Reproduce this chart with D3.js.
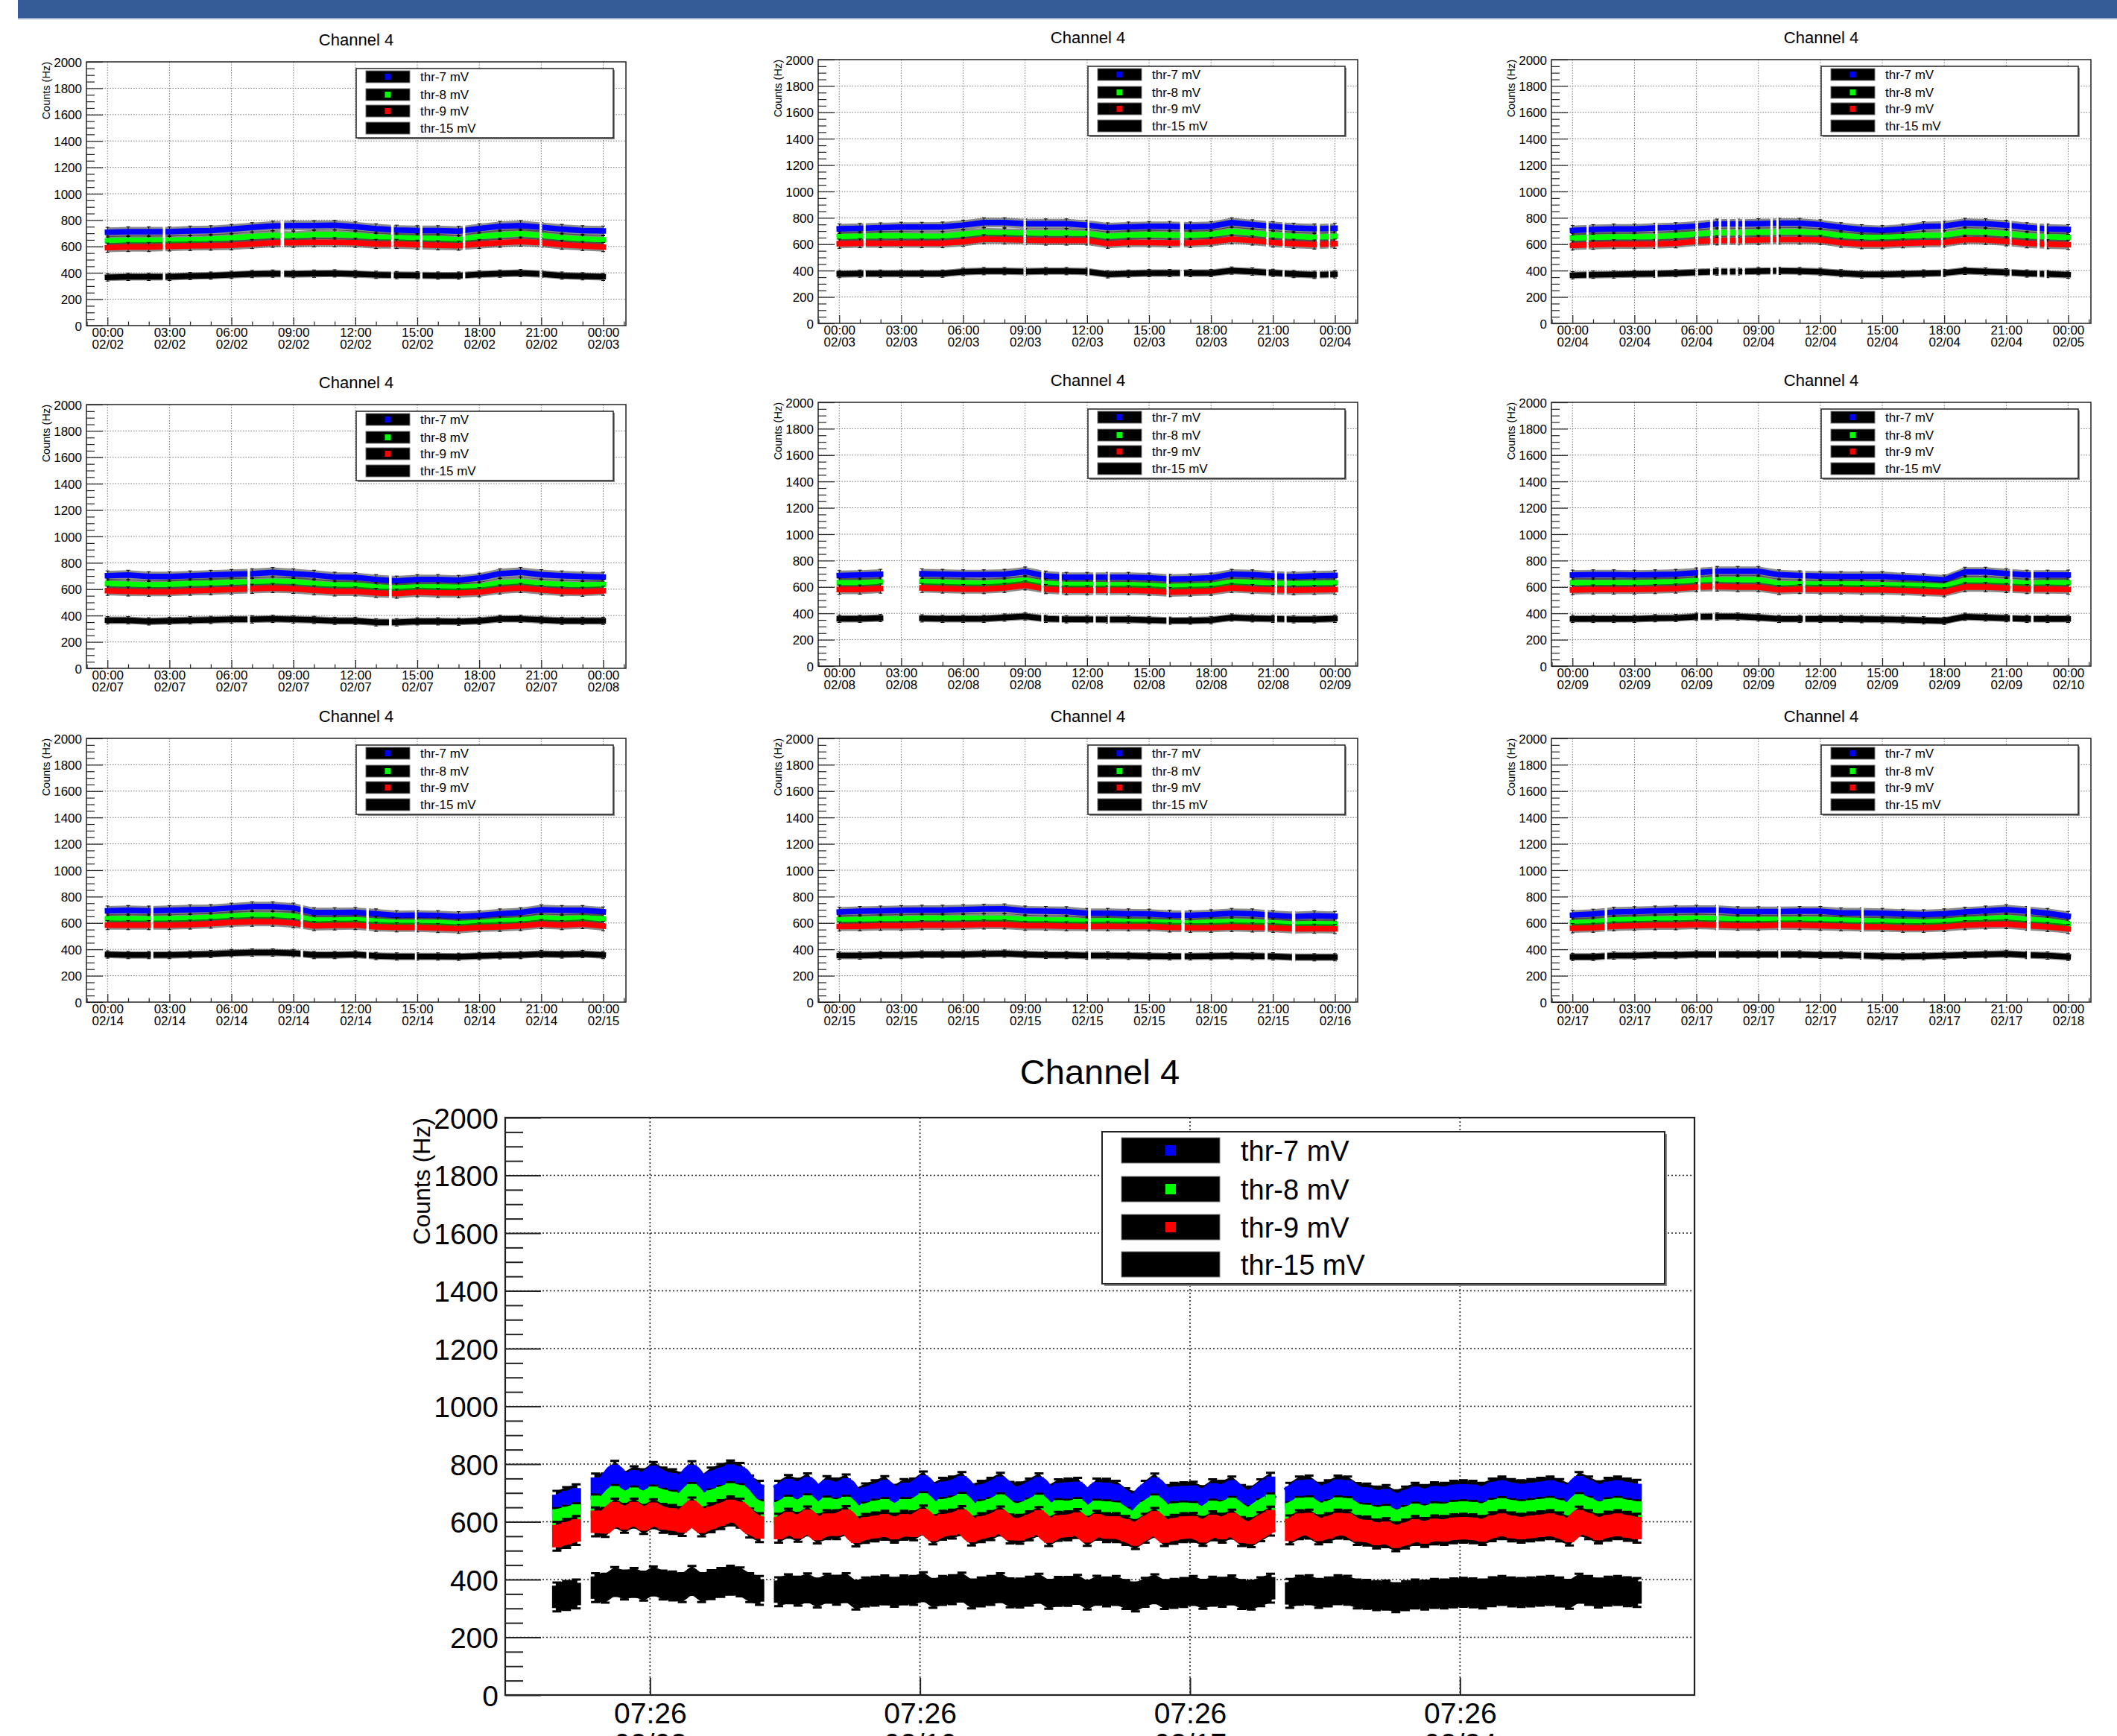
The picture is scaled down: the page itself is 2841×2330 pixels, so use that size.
<!DOCTYPE html>
<html>
<head>
<meta charset="utf-8">
<script src="https://cdn.jsdelivr.net/npm/d3@7"></script>
<style>
  body { margin: 0; background: #fff; }
  svg text { font-family: "Liberation Sans", Arial, Helvetica, sans-serif; fill: #000; }
</style>
</head>
<body>
<svg id="chart" width="2841" height="2330"></svg>
<script>
// ---- data ----
const title = "Channel 4";
const yTitle = "Counts (Hz)";
const seriesNames = ["thr-7 mV", "thr-8 mV", "thr-9 mV", "thr-15 mV"];
const yTicks = [0, 200, 400, 600, 800, 1000, 1200, 1400, 1600, 1800, 2000];

// one panel per day, hourly readings 00:00 .. 24:00
const panelDays = ["02/02", "02/03", "02/04", "02/07", "02/08", "02/09", "02/14", "02/15", "02/17"];
const hours = [0, 1, 2, 3, 4, 5, 6, 7, 8, 9, 10, 11, 12, 13, 14, 15, 16, 17, 18, 19, 20, 21, 22, 23, 24];
const xTickHours = [0, 3, 6, 9, 12, 15, 18, 21, 24];

const thr7 = [
  [708,712,712,712,718,721,731,744,755,759,759,761,750,735,725,721,721,716,736,753,759,746,731,721,718],
  [717,721,726,730,730,732,745,764,764,755,755,755,745,726,732,736,736,732,736,764,749,736,723,717,721],
  [705,712,716,716,723,727,738,754,754,756,760,760,749,727,712,705,716,734,738,760,756,745,727,716,712],
  [702,707,696,696,702,707,713,718,728,718,707,692,689,674,663,674,674,668,685,718,728,711,702,696,692],
  [687,691,697,null,700,697,693,693,697,715,684,674,674,674,674,669,659,663,669,697,693,684,678,684,687],
  [691,693,693,691,693,697,708,719,719,719,693,686,682,680,680,680,671,664,654,713,713,702,691,691,691],
  [692,696,692,696,701,703,714,724,724,714,679,679,681,670,657,659,657,649,657,670,679,701,696,696,685],
  [683,689,692,696,698,698,702,706,708,692,689,687,674,674,670,668,660,658,664,674,670,658,649,655,651],
  [660,668,683,687,692,696,698,698,687,687,687,689,689,677,677,674,668,664,670,683,692,702,689,674,651]
];
const thr8 = [
  [643,647,647,647,650,656,664,675,684,679,690,690,684,671,665,662,660,650,675,688,697,684,665,656,650],
  [657,660,664,664,660,660,676,689,685,683,683,683,679,660,670,674,670,670,674,698,685,670,660,651,660],
  [646,651,655,655,657,666,677,688,688,690,694,694,684,666,651,651,657,666,668,694,690,679,662,655,651],
  [642,637,631,635,642,646,653,653,659,657,642,631,631,616,609,616,616,614,620,648,657,642,635,631,635],
  [631,631,637,null,640,635,631,627,635,650,627,618,618,616,616,612,603,607,612,637,635,627,625,627,631],
  [632,632,632,632,636,638,647,654,654,654,625,621,621,621,621,616,614,610,605,649,647,638,627,632,632],
  [631,631,631,631,636,642,653,659,657,653,621,621,625,614,605,605,605,595,603,616,621,638,631,638,631],
  [623,626,630,632,636,636,636,636,636,626,621,621,613,617,611,608,604,598,608,611,608,602,592,594,592],
  [602,608,623,626,630,632,636,632,626,626,626,626,626,621,617,613,611,608,613,626,632,640,626,617,592]
];
const thr9 = [
  [591,596,596,600,604,606,609,619,628,628,632,632,628,619,619,613,609,606,619,628,637,628,613,604,596],
  [604,608,608,608,608,608,619,638,636,632,628,628,628,604,613,613,610,610,619,638,628,613,604,598,604],
  [591,596,600,600,602,607,622,629,629,633,635,635,633,611,600,600,607,611,613,635,633,622,607,600,596],
  [588,583,581,581,588,592,598,603,609,603,592,583,583,572,566,577,572,570,577,598,609,594,583,581,588],
  [580,580,588,null,593,588,584,584,593,612,584,575,575,575,575,571,561,565,571,593,584,578,575,578,580],
  [577,581,581,581,584,588,599,603,599,599,577,584,581,581,577,577,573,566,560,599,599,592,584,584,581],
  [584,584,584,584,588,595,605,610,610,599,577,582,584,571,567,567,562,556,567,571,577,592,584,592,577],
  [574,575,579,579,583,583,585,589,589,579,579,575,574,575,574,574,566,564,564,570,566,564,555,557,555],
  [560,564,575,579,583,583,589,583,579,579,583,583,579,575,570,570,564,564,570,583,589,592,579,570,555]
];
const thr15 = [
  [366,370,370,370,376,379,385,391,394,391,394,396,391,385,383,381,379,379,389,394,398,391,379,374,370],
  [374,377,377,377,377,377,391,396,396,393,396,396,393,372,377,381,381,381,381,400,393,383,374,368,372],
  [365,369,371,374,376,380,387,393,393,396,398,396,391,380,371,371,374,378,382,398,393,387,378,374,369],
  [364,364,356,360,364,367,371,371,375,371,367,360,360,349,349,356,356,354,360,375,375,367,360,360,360],
  [359,359,364,null,362,359,359,359,368,377,359,355,355,353,353,349,344,345,349,368,362,359,355,355,359],
  [358,358,358,358,363,365,374,376,376,369,358,358,358,358,356,354,352,347,343,374,369,363,358,358,358],
  [361,357,357,357,361,365,372,376,376,372,357,357,361,350,346,346,346,344,350,355,357,365,361,365,357],
  [353,353,357,357,362,362,362,366,368,362,358,357,353,353,351,349,347,347,349,351,349,347,340,340,340],
  [343,343,353,353,357,357,362,362,362,362,362,362,358,357,353,349,347,349,353,358,362,366,357,353,343]
];
// errors (Hz) per series
const errSmall = [37, 36, 35, 28];

// hours with no data in each panel [from, to]
const gapHours = [
  [[2.68,2.8],[8.38,8.55],[13.73,13.86],[15.13,15.25],[17.2,17.32],[20.92,21.04]],
  [[1.17,1.28],[8.92,9.04],[12.02,12.11],[16.5,16.69],[20.67,20.79],[21.46,21.56],[23.12,23.27],[23.69,23.77]],
  [[0.68,0.78],[4.0,4.12],[5.95,6.08],[6.66,6.8],[7.08,7.2],[7.5,7.62],[7.9,8.02],[8.22,8.35],[9.58,9.7],[9.87,9.98],[17.84,17.94],[21.16,21.26],[22.5,22.62],[22.84,22.96]],
  [[6.78,6.9],[13.63,13.76]],
  [[2.28,3.72],[9.78,9.9],[10.65,10.77],[12.3,12.42],[13.0,13.1],[15.84,15.96],[21.08,21.2],[21.55,21.66]],
  [[6.08,6.2],[6.78,6.9],[11.15,11.27],[21.18,21.3],[22.2,22.32]],
  [[2.1,2.22],[9.35,9.47],[12.53,12.65],[14.88,14.98]],
  [[12.05,12.18],[16.56,16.72],[20.6,20.74],[21.92,22.08]],
  [[1.56,1.68],[6.95,7.08],[9.96,10.08],[13.98,14.1],[22.0,22.18]]
];

// whole run: one reading every 6 h from bigStart (null = no data)
const bigStart = "2024-01-31T21:30";
const bigRange = ["2024-01-30T13:20", "2024-03-01T09:20"];
const bigTicks = ["2024-02-03T07:26", "2024-02-10T07:26", "2024-02-17T07:26", "2024-02-24T07:26"];
const big7 = [655,668,678,null,715,715,759,721,740,730,755,736,730,718,758,710,736,748,760,752,
  708,690,null,690,710,697,716,674,706,698,712,664,681,692,706,676,696,698,722,682,
  700,705,720,678,690,700,718,686,684,698,716,675,695,698,700,658,698,697,690,664,
  652,690,715,675,683,685,687,671,695,690,705,675,670,695,718,null,683,705,708,683,
  692,708,705,682,680,670,675,657,670,683,675,685,683,690,692,690,683,698,705,696,
  692,696,700,705,696,680,720,705,688,700,705,698,693];
const big8 = [605,613,622,null,652,648,685,662,680,664,683,672,665,656,692,651,670,682,695,688,
  648,632,null,630,648,634,653,616,645,638,648,610,624,634,640,619,640,640,660,624,
  640,645,658,620,632,640,656,628,626,638,655,617,636,634,640,605,634,632,628,606,
  593,630,652,618,625,628,626,610,634,630,644,618,612,636,656,null,626,644,646,625,
  632,646,643,622,620,612,616,600,612,624,616,625,623,630,632,630,624,637,643,636,
  632,636,640,644,636,621,657,644,628,639,644,637,632];
const big9 = [550,560,570,null,600,598,630,612,630,608,628,612,608,601,634,600,614,625,638,630,
  596,580,null,578,595,581,603,575,590,590,604,565,577,582,588,578,588,586,606,572,
  588,592,604,568,580,587,603,575,574,586,601,566,584,586,594,567,588,580,580,570,
  556,578,598,566,574,580,581,567,586,578,592,566,562,583,602,null,572,590,592,572,
  580,592,590,570,568,558,562,548,558,570,563,572,570,576,578,576,570,583,590,582,
  578,582,586,590,582,568,602,590,575,585,590,584,578];
const big15 = [340,345,350,null,372,370,393,381,390,377,395,381,378,372,397,372,382,390,398,392,
  372,362,null,358,368,360,371,353,370,363,372,346,357,360,364,356,364,362,375,352,
  362,365,374,350,357,362,372,354,353,360,370,349,359,359,366,346,363,357,362,348,
  340,356,368,348,352,355,362,349,360,356,364,348,346,358,370,null,352,363,365,352,
  357,365,363,350,349,344,346,337,344,350,346,352,350,354,356,354,350,358,362,357,
  355,357,360,362,357,349,370,362,353,360,362,358,355];
const errBig = [52, 42, 50, 50];

// ---- drawing ----
const FONT = "'Liberation Sans', Arial, Helvetica, sans-serif";
const HOUR = 3600e3;
const parseT = d3.timeParse("%Y-%m-%dT%H:%M");
const parseDay = d3.timeParse("%Y/%m/%d");
const fmtHM = d3.timeFormat("%H:%M"), fmtMD = d3.timeFormat("%m/%d");
const colors = ["#0000ff", "#00ff00", "#ff0000", "#000000"];

const svg = d3.select("#chart");
const defs = svg.append("defs");

// slide header band
svg.append("rect").attr("x", 24).attr("y", 0).attr("width", 2841 - 24).attr("height", 24).attr("fill", "#355c96");
svg.append("rect").attr("x", 24).attr("y", 24).attr("width", 2841 - 24).attr("height", 2).attr("fill", "#9db1cf");

function drawGrid(g, x, y, w, h, xMajor, o) {
  g.append("g").selectAll("line")
    .data(xMajor.filter(d => x(d) > 2 && x(d) < w - 2)).join("line")
    .attr("x1", d => x(d)).attr("x2", d => x(d)).attr("y1", 0).attr("y2", h)
    .attr("stroke", o.color).attr("stroke-width", o.w).attr("stroke-dasharray", o.dash);
  g.append("g").selectAll("line")
    .data(yTicks.filter(d => d > 0 && d < 2000)).join("line")
    .attr("x1", 0).attr("x2", w).attr("y1", d => y(d)).attr("y2", d => y(d))
    .attr("stroke", o.color).attr("stroke-width", o.w).attr("stroke-dasharray", o.dash);
}

function drawSeries(g, pts, x, y, color, err, o) {
  const def = d => d.v != null;
  g.append("path").datum(pts)
    .attr("d", d3.area().defined(def).x(d => x(d.t)).y0(d => y(d.v - err)).y1(d => y(d.v + err)))
    .attr("fill", "#000").attr("fill-opacity", o.band);
  const bars = pts.filter(def).map(d => {
    const px = x(d.t), a = y(d.v + err), b = y(d.v - err), c = o.cap / 2;
    return `M${px},${a}V${b}M${px - c},${a}H${px + c}M${px - c},${b}H${px + c}`;
  }).join("");
  g.append("path").attr("d", bars).attr("fill", "none").attr("stroke", "#000").attr("stroke-width", o.barW);
  g.append("path").datum(pts)
    .attr("d", d3.line().defined(def).x(d => x(d.t)).y(d => y(d.v)))
    .attr("fill", "none").attr("stroke", color).attr("stroke-width", o.lineW)
    .attr("stroke-linecap", o.linecap).attr("stroke-linejoin", "round");
  if (o.markW) {
    g.append("g").selectAll("rect").data(pts.filter(def)).join("rect")
      .attr("x", d => x(d.t) - o.markW / 2).attr("y", d => y(d.v) - o.lineW / 2)
      .attr("width", o.markW).attr("height", o.lineW).attr("fill", color);
  }
}

function drawAxes(g, x, y, w, h, o) {
  const yMinor = d3.range(0, 2001, 50).filter(v => v % 200 !== 0);
  g.append("g").call(d3.axisLeft(y).tickValues(yMinor).tickSize(-o.yMin).tickFormat(""))
    .call(s => s.select(".domain").remove())
    .selectAll("line").attr("stroke", "#222").attr("stroke-width", o.tickW);
  const ya = g.append("g")
    .call(d3.axisLeft(y).tickValues(yTicks).tickFormat(d3.format("d"))
      .tickSizeInner(-o.yMaj).tickSizeOuter(0).tickPadding(o.yPad))
    .attr("font-family", FONT).attr("font-size", o.font);
  ya.select(".domain").remove();
  ya.selectAll("line").attr("stroke", "#222").attr("stroke-width", o.tickW);
  ya.selectAll("text").attr("fill", "#000").attr("dy", "0.36em");

  if (o.xMinor) {
    g.append("g").attr("transform", `translate(0,${h})`)
      .call(d3.axisBottom(x).tickValues(o.xMinor).tickSize(-o.xMin).tickFormat(""))
      .call(s => s.select(".domain").remove())
      .selectAll("line").attr("stroke", "#222").attr("stroke-width", o.tickW);
  }
  const xa = g.append("g").attr("transform", `translate(0,${h})`)
    .call(d3.axisBottom(x).tickValues(o.xMajor).tickSizeInner(-o.xMaj).tickSizeOuter(0).tickFormat(fmtHM))
    .attr("font-family", FONT).attr("font-size", o.font);
  xa.select(".domain").remove();
  xa.selectAll("line").attr("stroke", "#222").attr("stroke-width", o.tickW);
  xa.selectAll(".tick text").attr("fill", "#000").attr("dy", null).attr("y", o.lab1);
  // date line under each time label
  xa.selectAll(".tick").append("text").attr("fill", "#000").attr("y", o.lab2)
    .text(d => fmtMD(d));

  g.append("rect").attr("width", w).attr("height", h).attr("fill", "none")
    .attr("stroke", "#222").attr("stroke-width", o.frameW);
  g.append("text").attr("transform", `translate(${o.yTitleX},0) rotate(-90)`)
    .attr("text-anchor", "end").attr("font-size", o.yTitleFont).text(yTitle);
  g.append("text").attr("x", w / 2).attr("y", o.titleY).attr("text-anchor", "middle")
    .attr("font-size", o.titleFont).text(title);
}

function drawLegend(g, o) {
  g.append("rect").attr("x", o.x + o.shadow).attr("y", o.y + o.shadow)
    .attr("width", o.w).attr("height", o.h).attr("fill", "#8a8a8a");
  g.append("rect").attr("x", o.x).attr("y", o.y).attr("width", o.w).attr("height", o.h)
    .attr("fill", "#fff").attr("stroke", "#222").attr("stroke-width", o.border);
  const rows = g.append("g").selectAll("g").data(seriesNames).join("g")
    .attr("transform", (d, i) => `translate(0,${o.rows[i]})`);
  rows.append("rect").attr("x", o.sx).attr("y", -o.sh / 2).attr("width", o.sw).attr("height", o.sh)
    .attr("fill", "#000").attr("stroke", "#777").attr("stroke-width", 1);
  rows.append("rect").attr("x", o.sx + o.sw / 2 - o.mk / 2).attr("y", -o.mk / 2)
    .attr("width", o.mk).attr("height", o.mk).attr("fill", (d, i) => colors[i]);
  rows.append("text").attr("x", o.tx).attr("dy", "0.36em").attr("font-size", o.font).text(d => d);
}

// ---- nine daily panels ----
const SW = 724, SH = 354;
const panelX = [116, 1098, 2082];
const panelY = [[83, 80, 80], [543, 540, 540], [991, 991, 991]];
const smallSeries = [thr7, thr8, thr9, thr15];

panelDays.forEach((day, p) => {
  const row = Math.floor(p / 3), col = p % 3;
  const t0 = parseDay("2024/" + day);
  const at = hh => new Date(+t0 + hh * HOUR);
  const x = d3.scaleTime().domain([at(-1.02), at(25.1)]).range([0, SW]);
  const y = d3.scaleLinear().domain([0, 2000]).range([SH, 0]);
  const g = svg.append("g").attr("transform", `translate(${panelX[col]},${panelY[row][col]})`);
  const xMajor = xTickHours.map(at);
  const xMinor = d3.range(-1, 26).filter(hh => !xTickHours.includes(hh)).map(at);

  drawGrid(g, x, y, SW, SH, xMajor, { color: "#777", w: 1, dash: "1.5,2" });

  const m = defs.append("mask").attr("id", "gap" + p).attr("maskUnits", "userSpaceOnUse")
    .attr("x", -40).attr("y", -40).attr("width", SW + 80).attr("height", SH + 80);
  m.append("rect").attr("x", -40).attr("y", -40).attr("width", SW + 80).attr("height", SH + 80).attr("fill", "#fff");
  m.selectAll("rect.g").data(gapHours[p]).join("rect").attr("class", "g")
    .attr("x", d => x(at(d[0]))).attr("y", -40)
    .attr("width", d => x(at(d[1])) - x(at(d[0]))).attr("height", SH + 80).attr("fill", "#000");
  const dg = g.append("g").attr("mask", `url(#gap${p})`);
  smallSeries.forEach((s, k) => {
    const pts = hours.map((hh, i) => ({ t: at(hh), v: s[p][i] }));
    drawSeries(dg, pts, x, y, colors[k], errSmall[k],
      { band: 0.45, cap: 5, barW: 1, lineW: 7.5, linecap: "square", markW: 0 });
  });

  drawAxes(g, x, y, SW, SH, {
    yMin: 11, yMaj: 22, xMin: 5.5, xMaj: 11, tickW: 1.2, yPad: 6, font: 17,
    xMajor, xMinor, lab1: 15, lab2: 31, frameW: 1.5,
    yTitleX: -49, yTitleFont: 14.5, titleY: -22, titleFont: 22
  });
  drawLegend(g, {
    x: 362, y: 9, w: 345, h: 93, shadow: 2, border: 1.5,
    rows: [20, 44, 66, 89], sx: 375, sw: 59, sh: 16, mk: 8, tx: 448, font: 17
  });
});

// ---- whole run ----
const BX = 678, BY = 1500, BW = 1596, BH = 775;
const bx = d3.scaleTime().domain(bigRange.map(parseT)).range([0, BW]);
const by = d3.scaleLinear().domain([0, 2000]).range([BH, 0]);
const bg = svg.append("g").attr("transform", `translate(${BX},${BY})`);
const bTicks = bigTicks.map(parseT);
const t00 = parseT(bigStart);

drawGrid(bg, bx, by, BW, BH, bTicks, { color: "#222", w: 1.6, dash: "2,3" });
[big7, big8, big9, big15].forEach((s, k) => {
  const pts = s.map((v, i) => ({ t: new Date(+t00 + i * 6 * HOUR), v }));
  drawSeries(bg, pts, bx, by, colors[k], errBig[k],
    { band: 1, cap: 12, barW: 3, lineW: 30, linecap: "butt", markW: 13 });
});
drawAxes(bg, bx, by, BW, BH, {
  yMin: 24, yMaj: 48, xMin: 0, xMaj: 23, tickW: 2, yPad: 9, font: 39,
  xMajor: bTicks, xMinor: null, lab1: 38, lab2: 79, frameW: 2.2,
  yTitleX: -101, yTitleFont: 32, titleY: -45, titleFont: 47
});
drawLegend(bg, {
  x: 801, y: 19, w: 755, h: 204, shadow: 3, border: 2,
  rows: [44, 96, 147, 197], sx: 827, sw: 132, sh: 34, mk: 14, tx: 987, font: 38
});
</script>
</body>
</html>
